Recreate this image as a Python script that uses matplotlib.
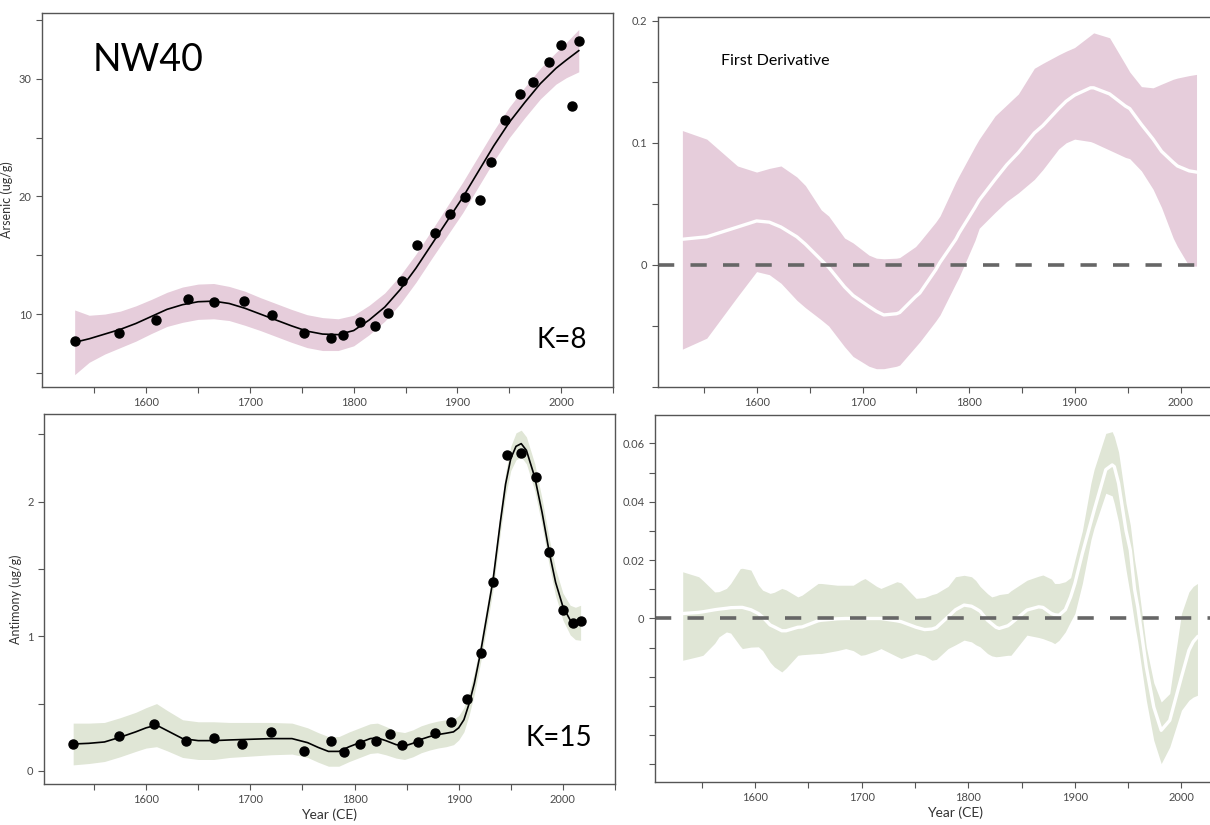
import matplotlib
matplotlib.use("Agg")
import matplotlib.pyplot as plt
import numpy as np

plt.rcParams['font.family'] = ['Lato', 'DejaVu Sans']

# ---- Arsenic (top left) ----
as_year = [1531, 1574, 1609, 1640, 1665, 1694, 1721, 1752, 1778, 1790, 1806, 1821, 1833,
           1847, 1861, 1878, 1893, 1907, 1922, 1932, 1946, 1960, 1973, 1988, 2000, 2010, 2017]
as_val = [7.7, 8.35, 9.5, 11.25, 11.05, 11.15, 9.95, 8.4, 7.95, 8.25, 9.35, 9.0, 10.1,
          12.85, 15.9, 16.9, 18.5, 19.95, 19.7, 22.9, 26.5, 28.7, 29.7, 31.4, 32.9, 27.7, 33.2]
as_fit_year = [1531, 1545, 1560, 1575, 1590, 1605, 1620, 1635, 1650, 1665, 1680, 1695, 1710,
               1725, 1740, 1755, 1770, 1785, 1800, 1815, 1830, 1845, 1860, 1875, 1890, 1905,
               1920, 1935, 1950, 1965, 1980, 1995, 2005, 2017]
as_fit = [7.6, 7.9, 8.3, 8.7, 9.2, 9.8, 10.4, 10.8, 11.05, 11.1, 10.9, 10.5, 10.0,
          9.5, 9.0, 8.55, 8.3, 8.25, 8.6, 9.5, 10.6, 12.1, 13.9, 15.9, 17.9, 19.9,
          22.1, 24.3, 26.3, 28.0, 29.6, 30.9, 31.6, 32.4]
as_hw = [2.75, 2.0, 1.7, 1.55, 1.5, 1.45, 1.45, 1.5, 1.5, 1.5, 1.45, 1.45, 1.4,
         1.4, 1.4, 1.4, 1.4, 1.35, 1.3, 1.25, 1.2, 1.2, 1.2, 1.2, 1.25, 1.3,
         1.3, 1.3, 1.3, 1.3, 1.3, 1.35, 1.5, 1.8]

# ---- Arsenic first derivative (top right) ----
asd_year = [1530, 1553, 1582, 1600, 1612, 1623, 1638, 1646, 1661, 1668, 1683, 1691, 1706,
            1713, 1720, 1732, 1735, 1750, 1754, 1769, 1773, 1788, 1791, 1806, 1810, 1825,
            1836, 1847, 1862, 1870, 1885, 1892, 1900, 1915, 1918, 1933, 1948, 1952, 1963,
            1974, 1982, 1993, 1997, 2008, 2015]
asd_mid = [0.021, 0.023, 0.031, 0.036, 0.035, 0.031, 0.023, 0.017, 0.004, -0.002, -0.018,
           -0.025, -0.034, -0.038, -0.041, -0.040, -0.039, -0.026, -0.023, -0.004, 0.002,
           0.021, 0.026, 0.047, 0.053, 0.070, 0.082, 0.092, 0.108, 0.114, 0.128, 0.134,
           0.139, 0.145, 0.145, 0.140, 0.130, 0.128, 0.115, 0.103, 0.093, 0.084, 0.081,
           0.077, 0.076]
asd_hi = [0.110, 0.103, 0.081, 0.076, 0.079, 0.081, 0.072, 0.065, 0.045, 0.040, 0.022,
          0.018, 0.008, 0.0055, 0.005, 0.0055, 0.006, 0.015, 0.019, 0.035, 0.040,
          0.068, 0.073, 0.097, 0.103, 0.122, 0.131, 0.140, 0.161, 0.165, 0.172, 0.175,
          0.178, 0.188, 0.190, 0.186, 0.164, 0.158, 0.146, 0.145, 0.148, 0.152, 0.153,
          0.155, 0.156]
asd_lo = [-0.069, -0.060, -0.026, -0.0055, -0.008, -0.015, -0.029, -0.035, -0.045, -0.050,
          -0.067, -0.075, -0.083, -0.085, -0.085, -0.083, -0.082, -0.067, -0.063, -0.046,
          -0.041, -0.015, -0.010, 0.020, 0.030, 0.043, 0.052, 0.059, 0.070, 0.078, 0.095,
          0.100, 0.103, 0.101, 0.100, 0.094, 0.088, 0.087, 0.077, 0.062, 0.047, 0.022,
          0.015, -0.001, -0.001]

# ---- Antimony (bottom left) ----
sb_year = [1530, 1574, 1608, 1638, 1665, 1692, 1720, 1752, 1777, 1790, 1805, 1821, 1834,
           1846, 1861, 1877, 1893, 1908, 1921, 1933, 1946, 1960, 1974, 1987, 2000, 2010, 2017]
sb_val = [0.197, 0.261, 0.348, 0.224, 0.241, 0.197, 0.291, 0.147, 0.221, 0.142, 0.201, 0.219,
          0.271, 0.189, 0.214, 0.284, 0.363, 0.532, 0.876, 1.403, 2.348, 2.363, 2.182, 1.622,
          1.194, 1.10, 1.112]
sb_fit_year = [1530, 1545, 1560, 1575, 1590, 1600, 1610, 1620, 1635, 1650, 1665, 1680, 1700,
               1720, 1740, 1755, 1765, 1775, 1785, 1795, 1805, 1815, 1822, 1830, 1840, 1848,
               1856, 1864, 1872, 1880, 1888, 1895, 1900, 1905, 1910, 1915, 1921, 1927, 1933,
               1940, 1945, 1950, 1955, 1960, 1965, 1973, 1980, 1987, 1993, 2000, 2007, 2012,
               2017]
sb_fit = [0.20, 0.205, 0.215, 0.25, 0.29, 0.32, 0.34, 0.30, 0.24, 0.225, 0.225, 0.23, 0.235,
          0.24, 0.24, 0.21, 0.175, 0.145, 0.145, 0.18, 0.21, 0.24, 0.245, 0.225, 0.195, 0.185,
          0.205, 0.235, 0.255, 0.27, 0.28, 0.29, 0.32, 0.38, 0.50, 0.65, 0.88, 1.15, 1.42,
          1.85, 2.13, 2.32, 2.41, 2.43, 2.38, 2.18, 1.92, 1.62, 1.40, 1.22, 1.12, 1.095, 1.10]
sb_hw = [0.155, 0.15, 0.145, 0.145, 0.145, 0.15, 0.16, 0.15, 0.14, 0.14, 0.14, 0.13, 0.125,
         0.12, 0.115, 0.11, 0.11, 0.11, 0.11, 0.11, 0.11, 0.11, 0.11, 0.105, 0.1, 0.1,
         0.1, 0.1, 0.1, 0.1, 0.1, 0.095, 0.09, 0.09, 0.085, 0.08, 0.075, 0.075, 0.075,
         0.08, 0.085, 0.09, 0.1, 0.1, 0.1, 0.1, 0.1, 0.1, 0.1, 0.1, 0.11, 0.12, 0.13]

# ---- Antimony first derivative (bottom right) ----
sbd_year = [1532, 1547, 1551, 1562, 1566, 1573, 1577, 1586, 1588, 1596, 1603, 1607, 1614,
            1618, 1625, 1629, 1640, 1644, 1659, 1662, 1677, 1685, 1692, 1699, 1703, 1714,
            1718, 1733, 1737, 1751, 1759, 1766, 1770, 1781, 1788, 1796, 1803, 1807, 1811,
            1818, 1822, 1826, 1829, 1837, 1840, 1855, 1866, 1870, 1878, 1881, 1885, 1891,
            1896, 1900, 1907, 1915, 1918, 1929, 1935, 1937, 1941, 1948, 1952, 1956, 1959,
            1967, 1974, 1981, 1989, 2000, 2007, 2011, 2015]
sbd_mid = [0.0017, 0.0021, 0.0023, 0.003, 0.0032, 0.0035, 0.0037, 0.0038, 0.0038, 0.003,
           0.0017, 0.0005, -0.0022, -0.0029, -0.0042, -0.0042, -0.003, -0.0029, -0.0008,
           -0.0006, -0.0001, 0.0, 0.0, 0.0, 0.0, 0.0, 0.0, -0.0008, -0.0011, -0.003,
           -0.0038, -0.0036, -0.0031, 0.0006, 0.003, 0.0046, 0.0042, 0.0034, 0.0025,
           -0.0006, -0.0018, -0.003, -0.0034, -0.0025, -0.0017, 0.0029, 0.004, 0.0038,
           0.0017, 0.0013, 0.0011, 0.003, 0.0074, 0.012, 0.0223, 0.033, 0.037, 0.051,
           0.0526, 0.052, 0.0463, 0.030, 0.0234, 0.010, 0.004, -0.0166, -0.0303, -0.0383,
           -0.0349, -0.020, -0.0109, -0.008, -0.0063]
sbd_hi = [0.016, 0.0143, 0.013, 0.0091, 0.0092, 0.0103, 0.012, 0.0171, 0.0172, 0.0166,
          0.0115, 0.0097, 0.0086, 0.009, 0.0103, 0.0098, 0.0074, 0.008, 0.012, 0.012,
          0.0114, 0.0114, 0.0114, 0.013, 0.0137, 0.011, 0.0103, 0.0126, 0.0122, 0.0069,
          0.0072, 0.0082, 0.0086, 0.011, 0.0143, 0.0148, 0.0143, 0.013, 0.011, 0.0085,
          0.0074, 0.0078, 0.0082, 0.0086, 0.0095, 0.0131, 0.0145, 0.0149, 0.0135, 0.012,
          0.012, 0.0126, 0.014, 0.020, 0.030, 0.0463, 0.051, 0.0634, 0.064, 0.0623, 0.057,
          0.0394, 0.032, 0.020, 0.0131, -0.0097, -0.022, -0.0286, -0.0257, 0.0017, 0.0091,
          0.011, 0.012]
sbd_lo = [-0.0143, -0.013, -0.0126, -0.0085, -0.0063, -0.0046, -0.005, -0.0095, -0.0103,
          -0.0098, -0.0097, -0.011, -0.015, -0.0166, -0.0183, -0.017, -0.0126, -0.0124,
          -0.012, -0.012, -0.011, -0.0103, -0.011, -0.0126, -0.0124, -0.011, -0.0103,
          -0.013, -0.0137, -0.012, -0.0128, -0.0143, -0.014, -0.0103, -0.009, -0.0074,
          -0.008, -0.009, -0.0097, -0.012, -0.0128, -0.0131, -0.013, -0.0126, -0.0126,
          -0.0057, -0.0065, -0.0069, -0.008, -0.0086, -0.0075, -0.0046, -0.001, 0.0017,
          0.012, 0.0269, 0.031, 0.0429, 0.042, 0.0394, 0.033, 0.0166, 0.008, -0.0017,
          -0.008, -0.028, -0.0417, -0.0497, -0.044, -0.0314, -0.028, -0.0269, -0.0263]

PINK = "#e6cddb"
GREEN = "#e0e6d6"
AXC = "#555555"
W, H = 1210, 825

fig = plt.figure(figsize=(12.1, 8.25), dpi=100)


def box(l, t, r, b):
    return [l / W, (H - b) / H, (r - l) / W, (b - t) / H]


def style(ax, show_right=True):
    for side in ["left", "top", "bottom", "right"]:
        ax.spines[side].set_color(AXC)
        ax.spines[side].set_linewidth(1.0)
    ax.spines["right"].set_visible(show_right)
    ax.tick_params(axis="both", direction="out", length=4, width=0.8, color=AXC,
                   labelcolor="#4a4a4a", labelsize=8)
    xt = np.arange(1550, 2060, 50)
    ax.set_xticks(xt)
    ax.set_xticklabels([str(v) if v % 100 == 0 else "" for v in xt])


# top left
ax1 = fig.add_axes(box(42, 13, 613, 387))
ax1.fill_between(as_fit_year, np.array(as_fit) - np.array(as_hw),
                 np.array(as_fit) + np.array(as_hw), color=PINK, lw=0)
ax1.plot(as_fit_year, as_fit, color="black", lw=1.2)
ax1.plot(as_year, as_val, "o", color="black", ms=6.5)
ax1.set_xlim(1499.5, 2040.5)
ax1.set_ylim(3.8, 35.6)
style(ax1)
yt = [5, 10, 15, 20, 25, 30, 35]
ax1.set_yticks(yt)
ax1.set_yticklabels([str(v) if v % 10 == 0 else "" for v in yt])
ax1.set_ylabel("Arsenic (ug/g)", fontsize=9, color="#333333", labelpad=4)
ax1.text(0.088, 0.875, "NW40", transform=ax1.transAxes, fontsize=27, color="black",
         va="center", ha="left")
ax1.text(0.955, 0.125, "K=8", transform=ax1.transAxes, fontsize=20, color="black",
         va="center", ha="right")

# top right
ax2 = fig.add_axes(box(658, 17, 1258, 387))
ax2.fill_between(asd_year, asd_lo, asd_hi, color=PINK, lw=0)
ax2.plot(asd_year, asd_mid, color="white", lw=2.4)
ax2.axhline(0, color="#666666", lw=2.6, dashes=(4.5, 4.5))
ax2.set_xlim(1507, 2073)
ax2.set_ylim(-0.1, 0.203)
style(ax2, show_right=False)
yt = [-0.1, -0.05, 0, 0.05, 0.1, 0.15, 0.2]
ax2.set_yticks(yt)
ax2.set_yticklabels(["", "", "0", "", "0.1", "", "0.2"])
ax2.text(0.105, 0.88, "First Derivative", transform=ax2.transAxes, fontsize=11.5,
         color="black", va="center", ha="left")

# bottom left
ax3 = fig.add_axes(box(44, 414, 615, 784))
ax3.fill_between(sb_fit_year, np.array(sb_fit) - np.array(sb_hw),
                 np.array(sb_fit) + np.array(sb_hw), color=GREEN, lw=0)
ax3.plot(sb_fit_year, sb_fit, color="black", lw=1.2)
ax3.plot(sb_year, sb_val, "o", color="black", ms=6.5)
ax3.set_xlim(1502, 2040.5)
ax3.set_ylim(-0.097, 2.65)
style(ax3)
yt = [0, 0.5, 1, 1.5, 2, 2.5]
ax3.set_yticks(yt)
ax3.set_yticklabels(["0", "", "1", "", "2", ""])
ax3.set_ylabel("Antimony (ug/g)", fontsize=9, color="#333333", labelpad=4)
ax3.set_xlabel("Year (CE)", fontsize=10, color="#333333", labelpad=2)
ax3.text(0.96, 0.125, "K=15", transform=ax3.transAxes, fontsize=20, color="black",
         va="center", ha="right")

# bottom right
ax4 = fig.add_axes(box(655, 415, 1255, 782))
ax4.fill_between(sbd_year, sbd_lo, sbd_hi, color=GREEN, lw=0)
ax4.plot(sbd_year, sbd_mid, color="white", lw=2.4)
ax4.axhline(0, color="#666666", lw=2.6, dashes=(4.5, 4.5))
ax4.set_xlim(1506, 2069)
ax4.set_ylim(-0.056, 0.0697)
style(ax4, show_right=False)
yt = [-0.05, -0.04, -0.03, -0.02, -0.01, 0, 0.01, 0.02, 0.03, 0.04, 0.05, 0.06]
ax4.set_yticks(yt)
ax4.set_yticklabels(["", "", "", "", "", "0", "", "0.02", "", "0.04", "", "0.06"])
ax4.set_xlabel("Year (CE)", fontsize=10, color="#333333", labelpad=2)

fig.savefig("out.png", dpi=100)
